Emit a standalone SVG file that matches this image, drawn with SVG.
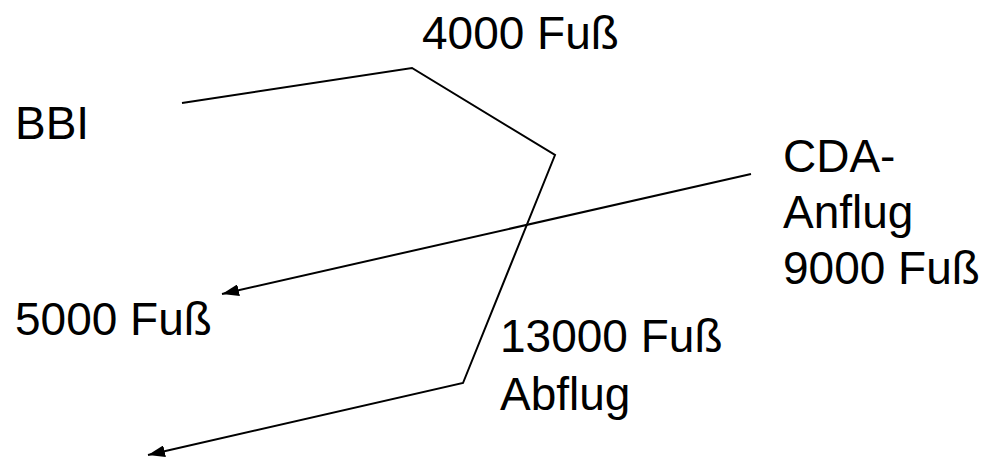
<svg xmlns="http://www.w3.org/2000/svg" width="993" height="462" viewBox="0 0 993 462">
<style>
.t{font-family:"Liberation Sans",Arial,sans-serif;font-size:46px;fill:#000}
.c{fill:none;stroke:#000;stroke-width:2;stroke-linejoin:miter}
</style>
<defs>
<marker id="ah" viewBox="0 0 10 10" refX="10" refY="5" markerWidth="17" markerHeight="12" markerUnits="userSpaceOnUse" orient="auto" preserveAspectRatio="none">
<path d="M0,0 L10,5 L0,10 z" fill="#000"/>
</marker>
</defs>
<rect width="993" height="462" fill="#fff"/>
<g id="connectors">
<polyline class="c" points="182,103 412,68 555,155 463,383 148,455" marker-end="url(#ah)"/>
<line class="c" x1="751" y1="174" x2="222" y2="294" marker-end="url(#ah)"/>
</g>
<g id="n4000"><text class="t" x="422" y="49">4000 Fuß</text></g>
<g id="nBBI"><text class="t" x="15" y="139">BBI</text></g>
<g id="nCDA"><text class="t" x="783" y="172">CDA-</text><text class="t" x="783" y="228">Anflug</text><text class="t" x="783" y="284">9000 Fuß</text></g>
<g id="n5000"><text class="t" x="15" y="335">5000 Fuß</text></g>
<g id="n13000"><text class="t" x="500" y="352">13000 Fuß</text><text class="t" x="500" y="410">Abflug</text></g>
</svg>
